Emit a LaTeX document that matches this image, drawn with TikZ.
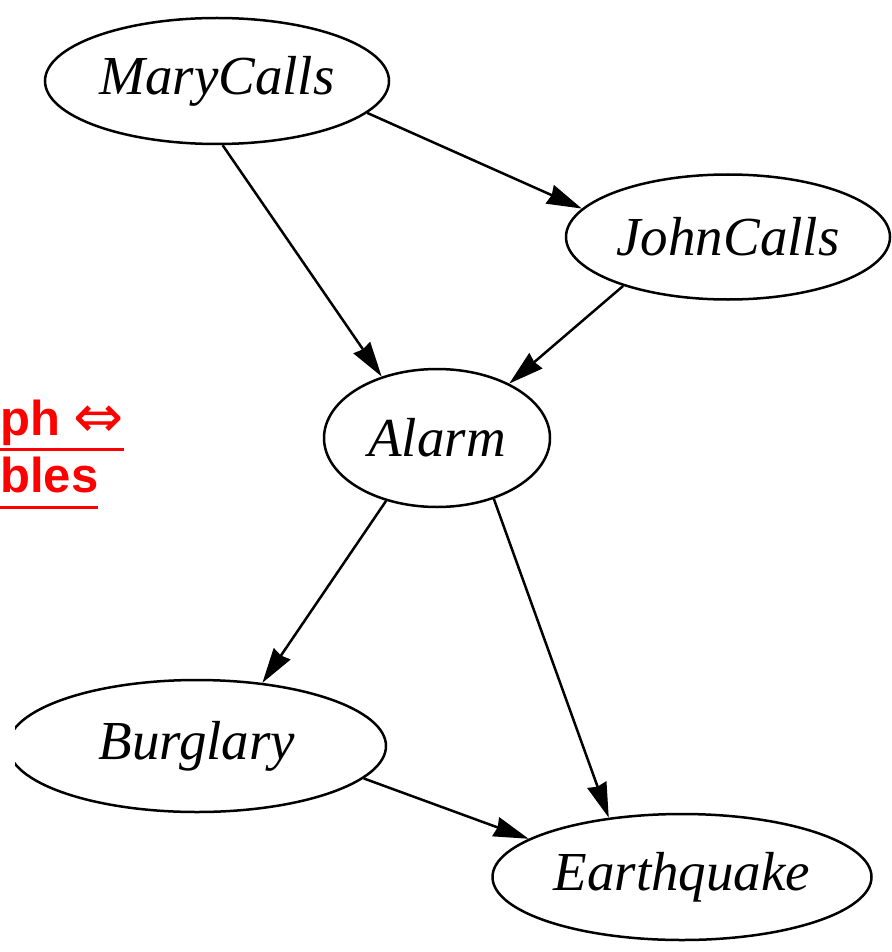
\documentclass[tikz,border=0pt]{standalone}
\usepackage{fontspec}
\setmainfont{Liberation Serif}
\newfontfamily\labelsans{Liberation Sans}
\newfontfamily\symfont{DejaVu Sans}
\usetikzlibrary{arrows.meta,shapes.geometric}
\definecolor{slidered}{RGB}{255,0,0}
\tikzset{
  var/.style={draw, line width=2.5pt, ellipse, inner sep=0pt,
    font=\fontsize{55}{60}\selectfont\itshape},
  link/.style={line width=2.5pt,
    -{Stealth[length=35pt,width=20pt,inset=2pt]}},
  redtext/.style={text=slidered, inner sep=0pt,
    font=\fontsize{49}{54}\selectfont\labelsans\bfseries},
  redrule/.style={draw=slidered, line width=3pt}
}
\begin{document}
\begin{tikzpicture}[x=1pt,y=-1pt]
  \useasboundingbox[fill=white] (0,0) rectangle (891,952);

  % network variables
  \node[var, minimum width=344pt, minimum height=126pt] (mary) at (217,81) {MaryCalls};
  \node[var, minimum width=324pt, minimum height=125pt] (john) at (728,237) {JohnCalls};
  \node[var, minimum width=226pt, minimum height=138pt] (alarm) at (437,438) {Alarm};
  \begin{scope}
    \clip (15,0) rectangle (891,952);
    \node[var, minimum width=378pt, minimum height=132pt] (burg) at (197,746) {Burglary};
  \end{scope}
  \node[var, minimum width=379pt, minimum height=126pt] (earth) at (682,877) {Earthquake};

  % directed links
  \draw[link] (mary.-12.2) -- (john.169);
  \draw[link] (mary.-85.5) -- (alarm.132.2);
  \draw[link] (john.205.9) -- (alarm.37.7);
  \draw[link] (alarm.-129.7) -- (burg.44.1);
  \draw[link] (alarm.-47.1) -- (earth.141.6);
  \draw[link] (burg.-11.1) -- (earth.166.9);

  % underlined red caption at the left edge
  \node[redtext, anchor=base west] (capA) at (0,435)
    {ph {\symfont\mdseries\fontsize{60}{64}\selectfont\raisebox{-2pt}{⇔}}};
  \node[redtext, anchor=base west] (capB) at (0,492) {bles};
  \coordinate (ulA) at (0,449);
  \coordinate (ulB) at (0,507);
  \draw[redrule] (ulA) -- (ulA -| capA.east);
  \draw[redrule] (ulB) -- (ulB -| capB.east);
\end{tikzpicture}
\end{document}
